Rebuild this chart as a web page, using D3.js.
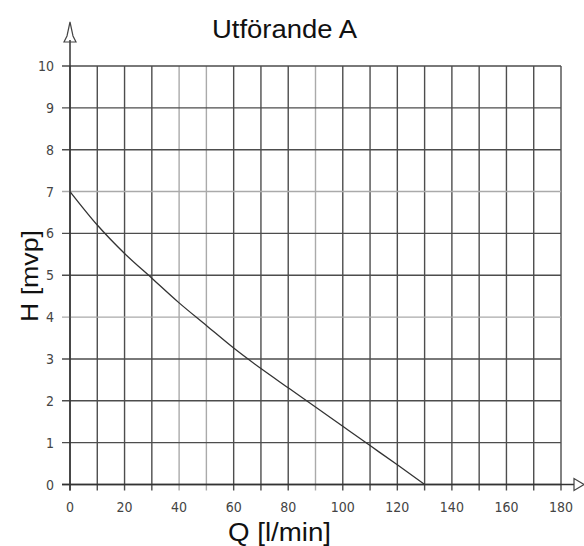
<!DOCTYPE html>
<html><head><meta charset="utf-8">
<script src="https://cdn.jsdelivr.net/npm/d3@7"></script>
<style>body{margin:0;background:#fff}</style>
</head><body>
<svg id="c" width="584" height="546"></svg>
<script>
const title = "Utförande A";
const xLabel = "Q [l/min]";
const yLabel = "H [mvp]";
const xTicks = [0,10,20,30,40,50,60,70,80,90,100,110,120,130,140,150,160,170,180];
const xTickLabels = [0,20,40,60,80,100,120,140,160,180];
const yTicks = [0,1,2,3,4,5,6,7,8,9,10];
const flowQ = [0, 10, 20, 30, 40, 50, 60, 70, 80, 90, 100, 110, 120, 130];
const headH = [7, 6.2, 5.52, 4.93, 4.34, 3.8, 3.26, 2.77, 2.31, 1.85, 1.39, 0.93, 0.47, 0];

const svg = d3.select("#c");
const x = d3.scaleLinear().domain([0,180]).range([70,561]);
const y = d3.scaleLinear().domain([0,10]).range([484.5,66]);
const lightX = new Set([40,50,90]);
const lightY = new Set([4,7]);

const g = svg.append("g");
// vertical grid
g.selectAll("line.vx").data(xTicks).join("line")
  .attr("x1", d=>x(d)).attr("x2", d=>x(d))
  .attr("y1", y(10)).attr("y2", y(0)+6)
  .attr("stroke", d=>lightX.has(d)?"#aaa":"#4d4d4d")
  .attr("stroke-width", 1.4);
// horizontal grid
g.selectAll("line.hy").data(yTicks).join("line")
  .attr("x1", x(0)-8).attr("x2", x(180))
  .attr("y1", d=>y(d)).attr("y2", d=>y(d))
  .attr("stroke", d=>lightY.has(d)?"#aaa":"#4d4d4d")
  .attr("stroke-width", 1.4);

// axes
g.append("line").attr("x1", x(0)).attr("x2", x(0)).attr("y1", y(0)+6).attr("y2", 40)
  .attr("stroke","#333").attr("stroke-width",1.5);
g.append("line").attr("x1", x(0)-8).attr("x2", 574).attr("y1", y(0)).attr("y2", y(0))
  .attr("stroke","#333").attr("stroke-width",1.5);
// arrowheads (hollow)
g.append("path").attr("d", `M${x(0)},22 L${x(0)-3},36 L${x(0)-6},42 L${x(0)+6},42 L${x(0)+3},36 Z`)
  .attr("fill","none").attr("stroke","#444").attr("stroke-width",1.2);
g.append("path").attr("d", `M574,${y(0)-6} L574,${y(0)+6} L584,${y(0)} Z`)
  .attr("fill","none").attr("stroke","#444").attr("stroke-width",1.2);

// curve
const line = d3.line().x((d,i)=>x(flowQ[i])).y((d,i)=>y(headH[i])).curve(d3.curveMonotoneX);
g.append("path").attr("d", line(flowQ)).attr("fill","none").attr("stroke","#333").attr("stroke-width",1.3);

// tick labels
const tickFont = "'Liberation Sans Narrow','DejaVu Sans Condensed',sans-serif";
g.selectAll("text.xt").data(xTickLabels).join("text")
  .attr("x", d=>x(d)).attr("y", 512)
  .attr("text-anchor","middle").attr("font-family",tickFont).attr("font-size",14)
  .attr("fill","#444").text(d=>d);
g.selectAll("text.yt").data(yTicks).join("text")
  .attr("x", 54).attr("y", d=>y(d)+5)
  .attr("text-anchor","end").attr("font-family",tickFont).attr("font-size",14)
  .attr("fill","#444").text(d=>d);

// title & labels
const lab = "'Liberation Sans',Arial,sans-serif";
svg.append("text").attr("x", 212).attr("y", 38)
  .attr("font-family",lab).attr("font-size",25)
  .attr("textLength",145).attr("lengthAdjust","spacingAndGlyphs")
  .attr("fill","#111").text(title);
svg.append("text").attr("x", 228).attr("y", 541)
  .attr("font-family",lab).attr("font-size",25)
  .attr("textLength",103).attr("lengthAdjust","spacingAndGlyphs")
  .attr("fill","#111").text(xLabel);
svg.append("text").attr("transform","translate(38,322) rotate(-90)")
  .attr("font-family",lab).attr("font-size",24)
  .attr("textLength",92).attr("lengthAdjust","spacingAndGlyphs")
  .attr("fill","#111").text(yLabel);
</script>
</body></html>
